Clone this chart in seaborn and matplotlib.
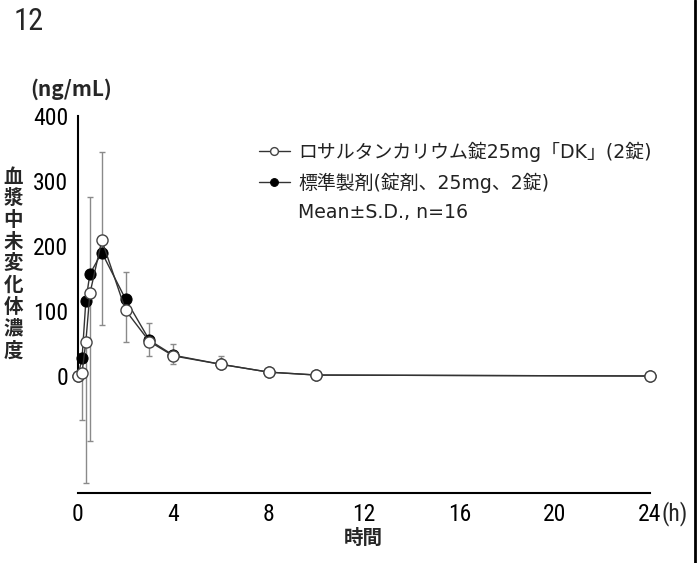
import matplotlib
matplotlib.use('Agg')
import matplotlib.pyplot as plt
import seaborn as sns
from matplotlib import font_manager
from matplotlib.font_manager import FontProperties
from matplotlib.lines import Line2D

# sampling times (h)
time_h = [0, 0.17, 0.33, 0.5, 1, 2, 3, 4, 6, 8, 10, 24]

# ロサルタンカリウム錠25mg「DK」 (open circles), SD drawn downward
dk_mean = [0, 5, 53, 127, 209, 101, 53, 31, 18, 6, 1.5, 0]
dk_sd_low = [0, 72, 218, 227, 131, 49, 22, 13, 5, 0, 0, 0]

# 標準製剤 (filled circles), SD drawn upward
ref_mean = [0, 27, 116, 157, 190, 118, 55, 32, 18, 6, 1.5, 0]
ref_sd_up = [0, 0, 0, 118, 155, 42, 27, 18, 13, 3, 0, 0]

series_labels = ['ロサルタンカリウム錠25mg「DK」(2錠)', '標準製剤(錠剤、25mg、2錠)']
note_label = 'Mean±S.D., n=16'
x_ticks = [0, 4, 8, 12, 16, 20, 24]
y_ticks = [0, 100, 200, 300, 400]

sns.set_theme(style='white')
plt.rcParams['font.family'] = ['Noto Sans CJK JP', 'DejaVu Sans']


def upright(f):
    name = f.fname.lower()
    return (f.style == 'normal' and 'italic' not in name and 'oblique' not in name
            and f.weight in (400, 500, 'normal', 'regular', 'medium'))


def narrow_font():
    # pick an upright condensed sans face if one is installed
    fonts = [f for f in font_manager.fontManager.ttflist if upright(f)]
    prefs = ['Liberation Sans Narrow', 'Roboto Condensed', 'Noto Sans Condensed',
             'Open Sans Condensed', 'DejaVu Sans Condensed', 'Arial Narrow']
    for p in prefs:
        for f in fonts:
            if f.name == p:
                return f.fname
    for f in fonts:
        if f.stretch in ('condensed', 'semi-condensed', 'extra-condensed') or \
                'Condensed' in f.name or 'Narrow' in f.name:
            return f.fname
    return None


nf = narrow_font()


def num_prop(size):
    if nf:
        return FontProperties(fname=nf, size=size)
    return FontProperties(family='DejaVu Sans', size=size)


fig = plt.figure(figsize=(6.97, 5.63), dpi=100)
ax = fig.add_axes([0.1119, 0.1243, 0.8207, 0.6696])

zeros = [0] * len(time_h)
ax.errorbar(time_h, dk_mean, yerr=[dk_sd_low, zeros], fmt='none', ecolor='#8a8a8a',
            elinewidth=1, capsize=2.5, capthick=1, zorder=2, clip_on=False)
ax.errorbar(time_h, ref_mean, yerr=[zeros, ref_sd_up], fmt='none', ecolor='#8a8a8a',
            elinewidth=1, capsize=2.5, capthick=1, zorder=2, clip_on=False)

sns.lineplot(x=time_h, y=ref_mean, ax=ax, color='#333333', lw=1, marker='o',
             markersize=8, markerfacecolor='black', markeredgecolor='black',
             errorbar=None, clip_on=False, zorder=3, label=series_labels[1])
sns.lineplot(x=time_h, y=dk_mean, ax=ax, color='#333333', lw=1, marker='o',
             markersize=8, markerfacecolor='white', markeredgecolor='#444444',
             markeredgewidth=1, errorbar=None, clip_on=False, zorder=4,
             label=series_labels[0])

ax.set_xlim(0, 24)
ax.set_ylim(-180, 400)
ax.set_xticks(x_ticks)
ax.set_xticklabels([str(t) for t in x_ticks])
ax.set_yticks(y_ticks)
ax.set_yticklabels([str(t) for t in y_ticks])
ax.set_xlabel('')
ax.set_ylabel('')

for side in ['top', 'right']:
    ax.spines[side].set_visible(False)
ax.spines['left'].set_bounds(0, 400)
ax.spines['bottom'].set_bounds(0, 24)
for side in ['left', 'bottom']:
    ax.spines[side].set_color('black')
    ax.spines[side].set_linewidth(1.5)
ax.tick_params(direction='in', length=4, width=1.2, color='black', pad=7,
               labelcolor='black')
for lbl in ax.get_xticklabels() + ax.get_yticklabels():
    lbl.set_fontproperties(num_prop(17))

ax.annotate('(h)', xy=(24, 0), xycoords=('data', 'axes fraction'), xytext=(8, -5.5),
            textcoords='offset points', ha='left', va='top',
            fontproperties=num_prop(17))

# legend with a third text-only row
handles, labels = ax.get_legend_handles_labels()
order = [labels.index(series_labels[0]), labels.index(series_labels[1])]
handles = [handles[i] for i in order] + [Line2D([], [], linestyle='none')]
labels = series_labels + [note_label]
leg = ax.legend(handles, labels, loc='upper left', bbox_to_anchor=(0.316, 0.932),
                frameon=False, fontsize=13.6, handlelength=1.65, handletextpad=0.43,
                labelspacing=0.56, borderpad=0, borderaxespad=0, markerscale=0.7,
                labelcolor='#222222')
for t in leg.get_texts():
    t.set_fontfamily(['DejaVu Sans', 'Noto Sans CJK JP'])

# figure texts
fig.text(14 / 697, 1 - 21 / 563, '12', va='center', fontproperties=num_prop(22))
fig.text(30 / 697, 1 - 89 / 563, '(ng/mL)', fontsize=15, fontweight='bold', va='center')
fig.text(13.5 / 697, 1 - 264 / 563, '\n'.join('血漿中未変化体濃度'), fontsize=14,
         fontweight='bold', ha='center', va='center', linespacing=1.18)
fig.text(363 / 697, 1 - 538 / 563, '時間', fontsize=14, fontweight='bold',
         ha='center', va='center')
fig.add_artist(Line2D([0.9965, 0.9965], [0, 1], color='black', lw=2,
                      transform=fig.transFigure))

fig.savefig('out.png', dpi=100)
